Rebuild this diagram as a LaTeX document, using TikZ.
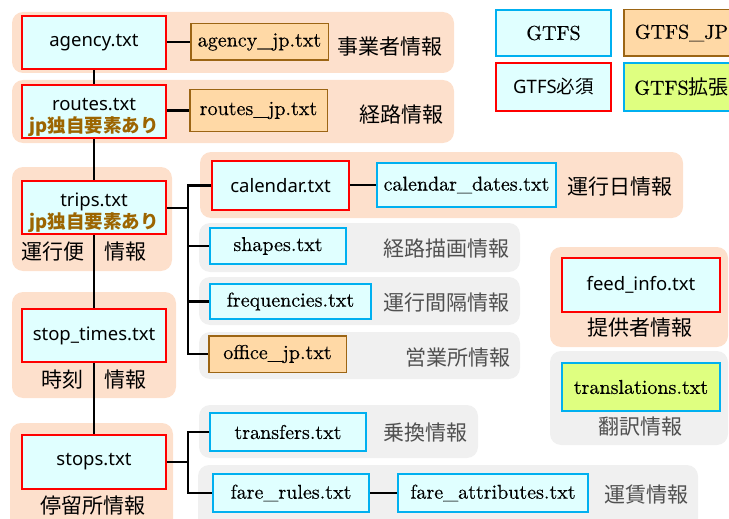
\documentclass[tikz,border=0pt]{standalone}
\usepackage{fontspec}
\newfontfamily\cjk{Noto Sans CJK JP}
\newfontfamily\sansf{Noto Sans}
\newfontfamily\serifr{lmroman10-regular.otf}[FakeBold=0.4]
\definecolor{cyanfill}{RGB}{224,255,255}
\definecolor{cyanline}{RGB}{0,176,240}
\definecolor{reqred}{RGB}{255,0,0}
\definecolor{orangefill}{RGB}{255,217,166}
\definecolor{brownline}{RGB}{156,101,20}
\definecolor{greenfill}{RGB}{223,255,128}
\definecolor{peach}{RGB}{253,224,204}
\definecolor{lgray}{RGB}{240,240,240}
\definecolor{graytext}{RGB}{80,80,80}
\definecolor{jpbrown}{RGB}{156,101,0}
\newcommand\serifL{\serifr\fontsize{20}{23}\selectfont}
\newcommand\sansL{\sansf\fontsize{18.5}{22}\selectfont}
\newcommand\cjkL{\cjk\fontsize{21}{24}\selectfont}
\newcommand\jpx{{\cjk\bfseries\fontsize{18.5}{22}\selectfont\color{jpbrown}jp独自要素あり}}
\tikzset{
  basebox/.style={draw, rectangle, inner sep=0pt, align=center},
  reqbox/.style={basebox, draw=reqred, line width=2.4pt, fill=cyanfill, font=\sansL},
  gtfsbox/.style={basebox, draw=cyanline, line width=1.8pt, fill=cyanfill, font=\serifL},
  jpbox/.style={basebox, draw=brownline, line width=1.5pt, fill=orangefill, font=\serifL},
  extbox/.style={basebox, draw=cyanline, line width=1.8pt, fill=greenfill, font=\serifL},
  bgo/.style={fill=peach, rounded corners=11pt},
  bgg/.style={fill=lgray, rounded corners=11pt},
  lab/.style={font=\cjkL, inner sep=0pt},
  glab/.style={font=\cjkL, text=graytext, inner sep=0pt},
  conn/.style={line width=2.6pt, line join=miter}
}
\begin{document}
\begin{tikzpicture}[x=1pt,y=-1pt]
\useasboundingbox (0,0) rectangle (729,519);
\clip (0,0) rectangle (729,519);
% backgrounds
\fill[bgo] (12,12) rectangle (454,73);
\fill[bgo] (12,80) rectangle (454,143);
\fill[bgo] (12,167) rectangle (172,271);
\fill[bgo] (200,152) rectangle (683,218);
\fill[bgg] (199,223) rectangle (520,272);
\fill[bgg] (199,277) rectangle (520,325);
\fill[bgg] (199,332) rectangle (520,379);
\fill[bgo] (12,292) rectangle (176,398);
\fill[bgo] (10,423) rectangle (173,535);
\fill[bgg] (199,405) rectangle (478,458);
\fill[bgg] (198,465) rectangle (698,535);
\fill[bgo] (550,247) rectangle (728,347);
\fill[bgg] (550,351) rectangle (728,445);
% boxes
\node[reqbox, minimum width=143.6pt, minimum height=52.6pt] (agency) at (94,42.5) {agency.txt};
\node[jpbox, minimum width=137.5pt, minimum height=36.5pt] (agencyjp) at (259.5,42) {agency\_jp.txt};
\node[reqbox, minimum width=143.6pt, minimum height=52.6pt] (routes) at (94,111.5) {\rule{0pt}{25pt}routes.txt\\[0pt]\jpx};
\node[jpbox, minimum width=137.5pt, minimum height=41.5pt] (routesjp) at (258.5,110.5) {routes\_jp.txt};
\node[reqbox, minimum width=143.6pt, minimum height=52.6pt] (trips) at (94,207.5) {\rule{0pt}{25pt}trips.txt\\[0pt]\jpx};
\node[reqbox, minimum width=136.6pt, minimum height=48.6pt] (calendar) at (280.5,185.5) {calendar.txt};
\node[gtfsbox, minimum width=179.2pt, minimum height=44.2pt] (caldates) at (466.5,185) {calendar\_dates.txt};
\node[gtfsbox, minimum width=136.2pt, minimum height=36.2pt] (shapes) at (278,246) {shapes.txt};
\node[gtfsbox, minimum width=161.2pt, minimum height=35.2pt] (freq) at (290.5,301.5) {frequencies.txt};
\node[jpbox, minimum width=137.5pt, minimum height=36.5pt] (office) at (277.5,354) {office\_jp.txt};
\node[reqbox, minimum width=143.6pt, minimum height=52.6pt] (stoptimes) at (94,335.5) {stop\_times.txt};
\node[reqbox, minimum width=143.6pt, minimum height=53.6pt] (stops) at (94,462) {stops.txt};
\node[gtfsbox, minimum width=156.2pt, minimum height=38.2pt] (transfers) at (288,432) {transfers.txt};
\node[gtfsbox, minimum width=156.2pt, minimum height=38.2pt] (farerules) at (291,493) {fare\_rules.txt};
\node[gtfsbox, minimum width=190.2pt, minimum height=38.2pt] (fareattr) at (493,493) {fare\_attributes.txt};
\node[reqbox, minimum width=157.6pt, minimum height=53.6pt] (feed) at (641,285) {feed\_info.txt};
\node[extbox, minimum width=158.2pt, minimum height=48.2pt] (transl) at (641,387) {translations.txt};
% legend
\node[gtfsbox, minimum width=115.2pt, minimum height=46.2pt] (lgtfs) at (553.5,33) {GTFS};
\node[jpbox, minimum width=115.5pt, minimum height=46.5pt] (lgtfsjp) at (681.5,33) {GTFS\_JP};
\node[reqbox, minimum width=114.6pt, minimum height=47.6pt] (lreq) at (553.5,87) {GTFS{\cjk 必須}};
\node[extbox, minimum width=115.2pt, minimum height=48.2pt] (lext) at (681.5,87) {GTFS{\cjk 拡張}};
% labels
\node[lab] (l1) at (390,47) {事業者情報};
\node[lab] (l2) at (401,115) {経路情報};
\node[lab] (l3) at (84,252) {運行便　情報};
\node[lab] (l4) at (620,187) {運行日情報};
\node[glab] (l5) at (446,249) {経路描画情報};
\node[glab] (l6) at (446,303) {運行間隔情報};
\node[glab] (l7) at (458,358) {営業所情報};
\node[lab] (l8) at (94,380) {時刻　情報};
\node[lab] (l9) at (640,328) {提供者情報};
\node[glab] (l10) at (640,427) {翻訳情報};
\node[lab] (l11) at (93,506) {停留所情報};
\node[glab] (l12) at (425,433) {乗換情報};
\node[glab] (l13) at (646,495) {運賃情報};
% connectors
\coordinate (tb) at (188,208);
\coordinate (sb) at (188,462);
\draw[conn] (agency.south) -- (routes.north);
\draw[conn] (routes.south) -- (trips.north);
\draw[conn] (trips.south) -- (stoptimes.north);
\draw[conn] (stoptimes.south) -- (stops.north);
\draw[conn] (agency.east |- agencyjp.west) -- (agencyjp.west);
\draw[conn] (routes.east |- routesjp.west) -- (routesjp.west);
\draw[conn] (trips.east |- tb) -- (tb);
\draw[conn] (calendar.west) -- (calendar.west -| tb) -- (office.west -| tb) -- (office.west);
\draw[conn] (shapes.west -| tb) -- (shapes.west);
\draw[conn] (freq.west -| tb) -- (freq.west);
\draw[conn] (calendar.east |- caldates.west) -- (caldates.west);
\draw[conn] (stops.east |- sb) -- (sb);
\draw[conn] (transfers.west) -- (transfers.west -| sb) -- (farerules.west -| sb) -- (farerules.west);
\draw[conn] (farerules.east) -- (fareattr.west);
\end{tikzpicture}
\end{document}
